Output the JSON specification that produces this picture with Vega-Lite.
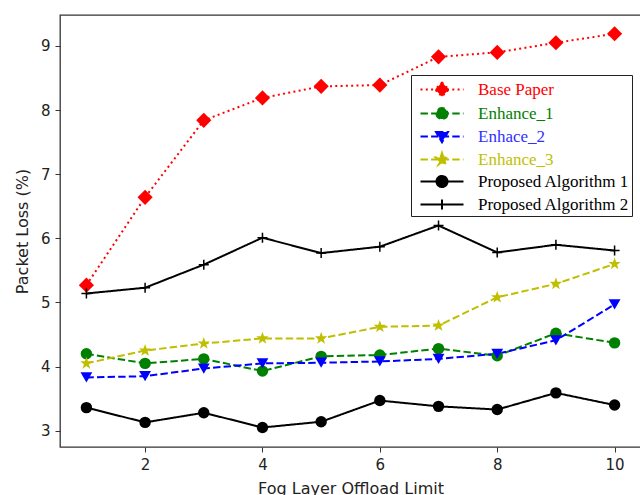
{
  "$schema": "https://vega.github.io/schema/vega-lite/v6.json",
  "width": 581,
  "height": 432,
  "autosize": {"type": "none"},
  "padding": {"left": 60, "top": 15, "right": 0, "bottom": 48},
  "config": {
    "view": {"stroke": "#333", "strokeWidth": 1.3},
    "font": "DejaVu Sans",
    "axis": {
      "grid": false,
      "domain": false,
      "tickColor": "#333",
      "tickSize": 5,
      "tickWidth": 1,
      "labelColor": "#222",
      "labelFont": "DejaVu Sans",
      "labelFontSize": 15,
      "titleFont": "DejaVu Sans",
      "titleFontSize": 16,
      "titleFontWeight": "normal",
      "titleColor": "#222"
    },
    "legend": {
      "orient": "none",
      "legendX": 351,
      "legendY": 60,
      "strokeColor": "#222",
      "fillColor": "white",
      "cornerRadius": 0,
      "padding": 2,
      "symbolSize": 529,
      "symbolStrokeWidth": 2,
      "symbolOffset": 16.5,
      "labelFont": "Liberation Serif",
      "labelFontSize": 17,
      "labelOffset": 23.5,
      "labelLimit": 300,
      "rowPadding": -2
    }
  },
  "data": {
    "values": [
      {"x": 1, "y": 5.27, "series": "Base Paper"},
      {"x": 2, "y": 6.64, "series": "Base Paper"},
      {"x": 3, "y": 7.84, "series": "Base Paper"},
      {"x": 4, "y": 8.19, "series": "Base Paper"},
      {"x": 5, "y": 8.37, "series": "Base Paper"},
      {"x": 6, "y": 8.39, "series": "Base Paper"},
      {"x": 7, "y": 8.83, "series": "Base Paper"},
      {"x": 8, "y": 8.90, "series": "Base Paper"},
      {"x": 9, "y": 9.05, "series": "Base Paper"},
      {"x": 10, "y": 9.19, "series": "Base Paper"},
      {"x": 1, "y": 4.20, "series": "Enhance_1"},
      {"x": 2, "y": 4.05, "series": "Enhance_1"},
      {"x": 3, "y": 4.12, "series": "Enhance_1"},
      {"x": 4, "y": 3.93, "series": "Enhance_1"},
      {"x": 5, "y": 4.16, "series": "Enhance_1"},
      {"x": 6, "y": 4.18, "series": "Enhance_1"},
      {"x": 7, "y": 4.28, "series": "Enhance_1"},
      {"x": 8, "y": 4.17, "series": "Enhance_1"},
      {"x": 9, "y": 4.52, "series": "Enhance_1"},
      {"x": 10, "y": 4.37, "series": "Enhance_1"},
      {"x": 1, "y": 3.83, "series": "Enhace_2"},
      {"x": 2, "y": 3.85, "series": "Enhace_2"},
      {"x": 3, "y": 3.97, "series": "Enhace_2"},
      {"x": 4, "y": 4.05, "series": "Enhace_2"},
      {"x": 5, "y": 4.06, "series": "Enhace_2"},
      {"x": 6, "y": 4.08, "series": "Enhace_2"},
      {"x": 7, "y": 4.12, "series": "Enhace_2"},
      {"x": 8, "y": 4.20, "series": "Enhace_2"},
      {"x": 9, "y": 4.41, "series": "Enhace_2"},
      {"x": 10, "y": 4.97, "series": "Enhace_2"},
      {"x": 1, "y": 4.05, "series": "Enhance_3"},
      {"x": 2, "y": 4.25, "series": "Enhance_3"},
      {"x": 3, "y": 4.36, "series": "Enhance_3"},
      {"x": 4, "y": 4.44, "series": "Enhance_3"},
      {"x": 5, "y": 4.44, "series": "Enhance_3"},
      {"x": 6, "y": 4.62, "series": "Enhance_3"},
      {"x": 7, "y": 4.64, "series": "Enhance_3"},
      {"x": 8, "y": 5.08, "series": "Enhance_3"},
      {"x": 9, "y": 5.29, "series": "Enhance_3"},
      {"x": 10, "y": 5.60, "series": "Enhance_3"},
      {"x": 1, "y": 3.36, "series": "Proposed Algorithm 1"},
      {"x": 2, "y": 3.13, "series": "Proposed Algorithm 1"},
      {"x": 3, "y": 3.28, "series": "Proposed Algorithm 1"},
      {"x": 4, "y": 3.05, "series": "Proposed Algorithm 1"},
      {"x": 5, "y": 3.14, "series": "Proposed Algorithm 1"},
      {"x": 6, "y": 3.47, "series": "Proposed Algorithm 1"},
      {"x": 7, "y": 3.38, "series": "Proposed Algorithm 1"},
      {"x": 8, "y": 3.33, "series": "Proposed Algorithm 1"},
      {"x": 9, "y": 3.59, "series": "Proposed Algorithm 1"},
      {"x": 10, "y": 3.40, "series": "Proposed Algorithm 1"},
      {"x": 1, "y": 5.14, "series": "Proposed Algorithm 2"},
      {"x": 2, "y": 5.23, "series": "Proposed Algorithm 2"},
      {"x": 3, "y": 5.59, "series": "Proposed Algorithm 2"},
      {"x": 4, "y": 6.01, "series": "Proposed Algorithm 2"},
      {"x": 5, "y": 5.77, "series": "Proposed Algorithm 2"},
      {"x": 6, "y": 5.87, "series": "Proposed Algorithm 2"},
      {"x": 7, "y": 6.20, "series": "Proposed Algorithm 2"},
      {"x": 8, "y": 5.78, "series": "Proposed Algorithm 2"},
      {"x": 9, "y": 5.90, "series": "Proposed Algorithm 2"},
      {"x": 10, "y": 5.81, "series": "Proposed Algorithm 2"}
    ]
  },
  "encoding": {
    "x": {
      "field": "x", "type": "quantitative",
      "scale": {"domain": [0.55, 10.45], "nice": false, "zero": false},
      "axis": {"values": [2, 4, 6, 8, 10], "title": "Fog Layer Offload Limit", "labelPadding": 5, "titlePadding": 8}
    },
    "y": {
      "field": "y", "type": "quantitative",
      "scale": {"domain": [2.746, 9.483], "nice": false, "zero": false},
      "axis": {"values": [3, 4, 5, 6, 7, 8, 9], "title": "Packet Loss (%)", "labelPadding": 5, "titlePadding": 10}
    },
    "color": {
      "field": "series", "type": "nominal",
      "scale": {
        "domain": ["Base Paper", "Enhance_1", "Enhace_2", "Enhance_3", "Proposed Algorithm 1", "Proposed Algorithm 2"],
        "range": ["#ff0000", "#008000", "#0000ff", "#bfbf00", "#000000", "#000000"]
      },
      "legend": {
        "title": null,
        "labelExpr": "datum.label + '  '",
        "labelColor": {"expr": "datum.value==='Base Paper' ? '#ff0000' : datum.value==='Enhance_1' ? '#008000' : datum.value==='Enhace_2' ? '#3030ff' : datum.value==='Enhance_3' ? '#bfbf00' : '#000000'"}
      }
    }
  },
  "layer": [
    {
      "mark": {"type": "line", "strokeWidth": 2},
      "encoding": {
        "strokeDash": {
          "field": "series", "type": "nominal",
          "scale": {
            "domain": ["Base Paper", "Enhance_1", "Enhace_2", "Enhance_3", "Proposed Algorithm 1", "Proposed Algorithm 2"],
            "range": [[2, 3.3], [7.4, 3.2], [7.4, 3.2], [7.4, 3.2], [1, 0], [1, 0]]
          },
          "legend": {"title": null}
        }
      }
    },
    {
      "transform": [{"filter": "datum.series === 'Base Paper'"}],
      "mark": {"type": "point", "shape": "diamond", "filled": true, "opacity": 1, "size": 230}
    },
    {
      "transform": [{"filter": "datum.series === 'Enhance_1' || datum.series === 'Proposed Algorithm 1'"}],
      "mark": {"type": "point", "shape": "circle", "filled": true, "opacity": 1, "size": 130}
    },
    {
      "transform": [{"filter": "datum.series === 'Enhace_2'"}],
      "mark": {"type": "point", "shape": "triangle-down", "filled": true, "opacity": 1, "size": 140}
    },
    {
      "transform": [{"filter": "datum.series === 'Enhance_3'"}],
      "mark": {"type": "point", "shape": "M0,-1L0.235,-0.324L0.951,-0.309L0.38,0.124L0.588,0.809L0,0.4L-0.588,0.809L-0.38,0.124L-0.951,-0.309L-0.235,-0.324Z", "filled": true, "opacity": 1, "size": 170}
    },
    {
      "transform": [{"filter": "datum.series === 'Proposed Algorithm 2'"}],
      "mark": {"type": "point", "shape": "M-1,0H1M0,-1V1", "filled": false, "opacity": 1, "size": 100, "strokeWidth": 1.5}
    },
    {
      "transform": [{"filter": "datum.x > 100"}],
      "mark": {"type": "point", "filled": true, "opacity": 1, "size": 529, "strokeWidth": 2},
      "encoding": {
        "shape": {
          "field": "series", "type": "nominal",
          "scale": {
            "domain": ["Base Paper", "Enhance_1", "Enhace_2", "Enhance_3", "Proposed Algorithm 1", "Proposed Algorithm 2"],
            "range": [
              "M-1.87,0H1.87M0,-0.6L0.6,0L0,0.6L-0.6,0Z",
              "M-1.87,0H1.87M0.48,0A0.48,0.48,0,1,1,-0.48,0A0.48,0.48,0,1,1,0.48,0Z",
              "M-1.87,0H1.87M-0.52,-0.4L0.52,-0.4L0,0.5Z",
              "M-1.87,0H1.87M0,-0.57L0.129,-0.178L0.542,-0.176L0.209,0.068L0.335,0.461L0,0.22L-0.335,0.461L-0.209,0.068L-0.542,-0.176L-0.129,-0.178Z",
              "M-1.87,0H1.87M0.48,0A0.48,0.48,0,1,1,-0.48,0A0.48,0.48,0,1,1,0.48,0Z",
              "M-1.87,0H1.87M0,-0.43V0.43"
            ]
          },
          "legend": {"title": null}
        },
        "strokeDash": {
          "field": "series", "type": "nominal",
          "scale": {
            "domain": ["Base Paper", "Enhance_1", "Enhace_2", "Enhance_3", "Proposed Algorithm 1", "Proposed Algorithm 2"],
            "range": [[2, 3.3], [7.4, 3.2], [7.4, 3.2], [7.4, 3.2], [1, 0], [1, 0]]
          },
          "legend": {"title": null}
        },
        "stroke": {
          "field": "series", "type": "nominal",
          "scale": {
            "domain": ["Base Paper", "Enhance_1", "Enhace_2", "Enhance_3", "Proposed Algorithm 1", "Proposed Algorithm 2"],
            "range": ["#ff0000", "#008000", "#0000ff", "#bfbf00", "#000000", "#000000"]
          },
          "legend": {"title": null}
        }
      }
    }
  ]
}
